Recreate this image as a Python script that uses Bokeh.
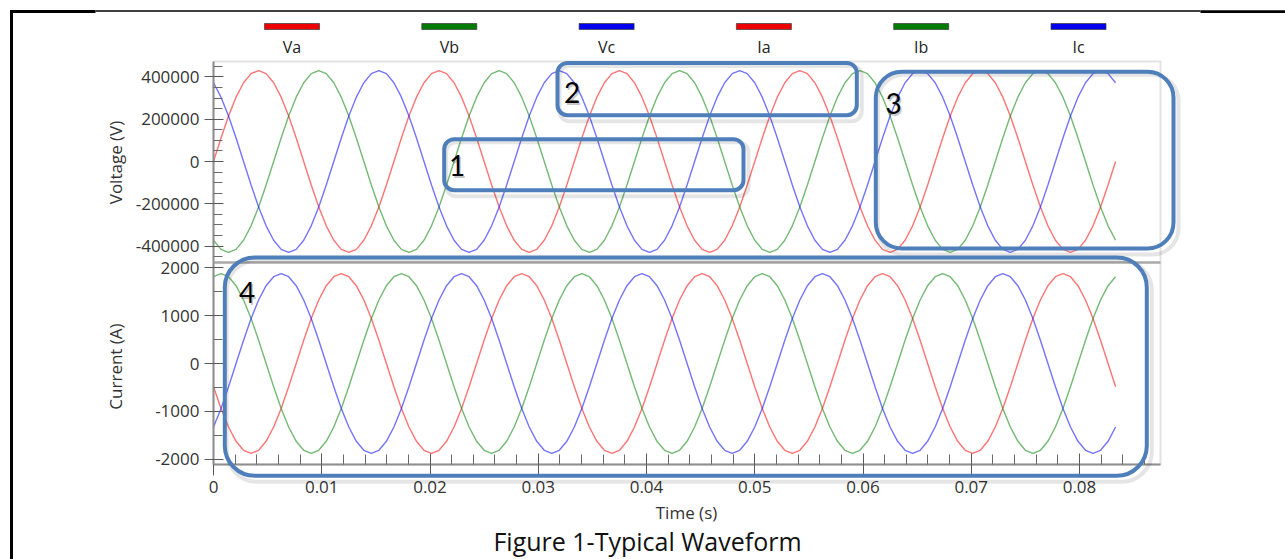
import math
from bokeh.plotting import figure
from bokeh.models import (Range1d, LinearAxis, FixedTicker, NumeralTickFormatter,
                          BoxAnnotation, Label)
from bokeh.embed import file_html
from bokeh.resources import INLINE

# ---------------- data (one sample every 1/1440 s) ----------------
SAMPLE_STEP = 1 / 1440  # s

Va = [
    0, 111300, 215000, 304100, 372400, 415300, 430000, 415300, 372400, 304100, 215000, 111300,
    0, -111300, -215000, -304100, -372400, -415300, -430000, -415300, -372400, -304100, -215000, -111300,
    0, 111300, 215000, 304100, 372400, 415300, 430000, 415300, 372400, 304100, 215000, 111300,
    0, -111300, -215000, -304100, -372400, -415300, -430000, -415300, -372400, -304100, -215000, -111300,
    0, 111300, 215000, 304100, 372400, 415300, 430000, 415300, 372400, 304100, 215000, 111300,
    0, -111300, -215000, -304100, -372400, -415300, -430000, -415300, -372400, -304100, -215000, -111300,
    0, 111300, 215000, 304100, 372400, 415300, 430000, 415300, 372400, 304100, 215000, 111300,
    0, -111300, -215000, -304100, -372400, -415300, -430000, -415300, -372400, -304100, -215000, -111300,
    0, 111300, 215000, 304100, 372400, 415300, 430000, 415300, 372400, 304100, 215000, 111300,
    0, -111300, -215000, -304100, -372400, -415300, -430000, -415300, -372400, -304100, -215000, -111300,
    0,
]
Vb = [
    -372400, -415300, -430000, -415300, -372400, -304100, -215000, -111300, 0, 111300, 215000, 304100,
    372400, 415300, 430000, 415300, 372400, 304100, 215000, 111300, 0, -111300, -215000, -304100,
    -372400, -415300, -430000, -415300, -372400, -304100, -215000, -111300, 0, 111300, 215000, 304100,
    372400, 415300, 430000, 415300, 372400, 304100, 215000, 111300, 0, -111300, -215000, -304100,
    -372400, -415300, -430000, -415300, -372400, -304100, -215000, -111300, 0, 111300, 215000, 304100,
    372400, 415300, 430000, 415300, 372400, 304100, 215000, 111300, 0, -111300, -215000, -304100,
    -372400, -415300, -430000, -415300, -372400, -304100, -215000, -111300, 0, 111300, 215000, 304100,
    372400, 415300, 430000, 415300, 372400, 304100, 215000, 111300, 0, -111300, -215000, -304100,
    -372400, -415300, -430000, -415300, -372400, -304100, -215000, -111300, 0, 111300, 215000, 304100,
    372400, 415300, 430000, 415300, 372400, 304100, 215000, 111300, 0, -111300, -215000, -304100,
    -372400,
]
Vc = [
    372400, 304100, 215000, 111300, 0, -111300, -215000, -304100, -372400, -415300, -430000, -415300,
    -372400, -304100, -215000, -111300, 0, 111300, 215000, 304100, 372400, 415300, 430000, 415300,
    372400, 304100, 215000, 111300, 0, -111300, -215000, -304100, -372400, -415300, -430000, -415300,
    -372400, -304100, -215000, -111300, 0, 111300, 215000, 304100, 372400, 415300, 430000, 415300,
    372400, 304100, 215000, 111300, 0, -111300, -215000, -304100, -372400, -415300, -430000, -415300,
    -372400, -304100, -215000, -111300, 0, 111300, 215000, 304100, 372400, 415300, 430000, 415300,
    372400, 304100, 215000, 111300, 0, -111300, -215000, -304100, -372400, -415300, -430000, -415300,
    -372400, -304100, -215000, -111300, 0, 111300, 215000, 304100, 372400, 415300, 430000, 415300,
    372400, 304100, 215000, 111300, 0, -111300, -215000, -304100, -372400, -415300, -430000, -415300,
    -372400, -304100, -215000, -111300, 0, 111300, 215000, 304100, 372400, 415300, 430000, 415300,
    372400,
]
Ia = [
    -487, -940, -1329, -1628, -1816, -1880, -1816, -1628, -1329, -940, -487, 0,
    487, 940, 1329, 1628, 1816, 1880, 1816, 1628, 1329, 940, 487, 0,
    -487, -940, -1329, -1628, -1816, -1880, -1816, -1628, -1329, -940, -487, 0,
    487, 940, 1329, 1628, 1816, 1880, 1816, 1628, 1329, 940, 487, 0,
    -487, -940, -1329, -1628, -1816, -1880, -1816, -1628, -1329, -940, -487, 0,
    487, 940, 1329, 1628, 1816, 1880, 1816, 1628, 1329, 940, 487, 0,
    -487, -940, -1329, -1628, -1816, -1880, -1816, -1628, -1329, -940, -487, 0,
    487, 940, 1329, 1628, 1816, 1880, 1816, 1628, 1329, 940, 487, 0,
    -487, -940, -1329, -1628, -1816, -1880, -1816, -1628, -1329, -940, -487, 0,
    487, 940, 1329, 1628, 1816, 1880, 1816, 1628, 1329, 940, 487, 0,
    -487,
]
Ib = [
    1816, 1880, 1816, 1628, 1329, 940, 487, 0, -487, -940, -1329, -1628,
    -1816, -1880, -1816, -1628, -1329, -940, -487, 0, 487, 940, 1329, 1628,
    1816, 1880, 1816, 1628, 1329, 940, 487, 0, -487, -940, -1329, -1628,
    -1816, -1880, -1816, -1628, -1329, -940, -487, 0, 487, 940, 1329, 1628,
    1816, 1880, 1816, 1628, 1329, 940, 487, 0, -487, -940, -1329, -1628,
    -1816, -1880, -1816, -1628, -1329, -940, -487, 0, 487, 940, 1329, 1628,
    1816, 1880, 1816, 1628, 1329, 940, 487, 0, -487, -940, -1329, -1628,
    -1816, -1880, -1816, -1628, -1329, -940, -487, 0, 487, 940, 1329, 1628,
    1816, 1880, 1816, 1628, 1329, 940, 487, 0, -487, -940, -1329, -1628,
    -1816, -1880, -1816, -1628, -1329, -940, -487, 0, 487, 940, 1329, 1628,
    1816,
]
Ic = [
    -1329, -940, -487, 0, 487, 940, 1329, 1628, 1816, 1880, 1816, 1628,
    1329, 940, 487, 0, -487, -940, -1329, -1628, -1816, -1880, -1816, -1628,
    -1329, -940, -487, 0, 487, 940, 1329, 1628, 1816, 1880, 1816, 1628,
    1329, 940, 487, 0, -487, -940, -1329, -1628, -1816, -1880, -1816, -1628,
    -1329, -940, -487, 0, 487, 940, 1329, 1628, 1816, 1880, 1816, 1628,
    1329, 940, 487, 0, -487, -940, -1329, -1628, -1816, -1880, -1816, -1628,
    -1329, -940, -487, 0, 487, 940, 1329, 1628, 1816, 1880, 1816, 1628,
    1329, 940, 487, 0, -487, -940, -1329, -1628, -1816, -1880, -1816, -1628,
    -1329, -940, -487, 0, 487, 940, 1329, 1628, 1816, 1880, 1816, 1628,
    1329, 940, 487, 0, -487, -940, -1329, -1628, -1816, -1880, -1816, -1628,
    -1329,
]
time_s = [k * SAMPLE_STEP for k in range(len(Va))]

LEGEND_LABELS = ["Va", "Vb", "Vc", "Ia", "Ib", "Ic"]
V_TICKS = [-400000, -200000, 0, 200000, 400000]
V_MINOR = [-450000, -350000, -300000, -250000, -150000, -100000, -50000,
           50000, 100000, 150000, 250000, 300000, 350000, 450000]
I_TICKS = [-2000, -1000, 0, 1000, 2000]
I_MINOR = [-1500, -500, 500, 1500]
T_TICKS = [0, 0.01, 0.02, 0.03, 0.04, 0.05, 0.06, 0.07, 0.08]
T_MINOR = [i * 0.002 for i in range(44) if i % 5]
BOX_NUMBERS = ["1", "2", "3", "4"]
CAPTION = "Figure 1-Typical Waveform"

# ---------------- styling / layout (page pixels) ----------------
RED, GREEN, BLUE = "#ff0000", "#008000", "#0000ff"
LEG_FILL = ["#ee0000", "#007a00", "#0000ee", "#ee0000", "#007a00", "#0000ee"]
BOX_BLUE = "#4f7fba"
FONT = "Open Sans"
TXT = "#333333"

W, H = 1285, 559
FX0, FX1, FY0, FY1 = 213, 1160, 61, 464   # plot area
SEP_Y = 262                               # border between voltage and current panels
V0_Y, VPX = 161, 42.3 / 200000            # voltage zero line, px per volt
I0_Y, IPX = 363, 0.0478                   # current zero line, px per amp
PX_PER_S = 10825


def tx(px):
    return (px - FX0) / PX_PER_S


def ty(py):
    return (V0_Y - py) / VPX


def cy(py):
    return (I0_Y - py) / IPX


p = figure(width=W, height=H, x_range=Range1d(tx(0), tx(W)), y_range=Range1d(ty(H), ty(0)),
           output_backend="svg", toolbar_location=None,
           x_axis_location=None, y_axis_location=None,
           min_border=0, min_border_left=0, min_border_right=0,
           min_border_top=0, min_border_bottom=0)
p.extra_y_ranges = {"cur": Range1d(cy(H), cy(0))}
p.grid.visible = False
p.background_fill_color = "white"
p.border_fill_color = "white"
p.outline_line_color = None

# panel frame and separator
p.add_layout(BoxAnnotation(left=tx(FX0), right=tx(FX1), top=ty(FY0), bottom=ty(FY1),
                           fill_alpha=0, line_color="#a3a3a3", line_width=2, level="underlay"))
p.add_layout(BoxAnnotation(left=tx(FX0), right=tx(FX1), top=ty(SEP_Y - 1.2), bottom=ty(SEP_Y + 1.2),
                           fill_color="#a8a8a8", fill_alpha=1, line_alpha=0, level="underlay"))

# axes (drawn at fixed positions)
vax = LinearAxis(fixed_location=0, bounds=(ty(SEP_Y), ty(FY0)),
                 ticker=FixedTicker(ticks=V_TICKS, minor_ticks=V_MINOR),
                 formatter=NumeralTickFormatter(format="0"))
iax = LinearAxis(y_range_name="cur", fixed_location=0, bounds=(cy(FY1), cy(SEP_Y)),
                 ticker=FixedTicker(ticks=I_TICKS, minor_ticks=I_MINOR),
                 formatter=NumeralTickFormatter(format="0"))
xax = LinearAxis(fixed_location=ty(FY1), bounds=(0, tx(FX1)),
                 ticker=FixedTicker(ticks=T_TICKS, minor_ticks=T_MINOR),
                 formatter=NumeralTickFormatter(format="0.[00]"))
for ax in (vax, iax):
    ax.major_tick_in = 10
    ax.major_tick_out = 9
    ax.minor_tick_in = 9
    ax.minor_tick_out = 0
    ax.major_label_standoff = 5
xax.major_tick_in = 11
xax.major_tick_out = 11
xax.minor_tick_in = 10
xax.minor_tick_out = 0
xax.major_label_standoff = 5
for ax in (vax, iax, xax):
    ax.axis_line_color = "#8f8f8f"
    ax.axis_line_width = 2
    ax.major_tick_line_color = "#5a5a5a"
    ax.minor_tick_line_color = "#6a6a6a"
    ax.major_label_text_font = FONT
    ax.major_label_text_font_size = "17px"
    ax.major_label_text_color = TXT
p.add_layout(vax, "left")
p.add_layout(iax, "left")
p.add_layout(xax, "below")

# waveforms
for ys, c in ((Va, RED), (Vb, GREEN), (Vc, BLUE)):
    p.line(time_s, ys, line_color=c, line_alpha=0.55, line_width=1.4)
for ys, c in ((Ia, RED), (Ib, GREEN), (Ic, BLUE)):
    p.line(time_s, ys, line_color=c, line_alpha=0.55, line_width=1.4, y_range_name="cur")

# axis titles
for txt, xx, yy, ang in (("Voltage (V)", 115, 162, math.pi / 2),
                         ("Current (A)", 115, 366, math.pi / 2),
                         ("Time (s)", 686, 512, 0)):
    p.add_layout(Label(x=tx(xx), y=ty(yy), text=txt, angle=ang,
                       text_align="center", text_baseline="middle",
                       text_font=FONT, text_font_size="17px", text_color=TXT))

# legend on top
for i, (lab, fc) in enumerate(zip(LEGEND_LABELS, LEG_FILL)):
    x0 = 264 + 157.3 * i
    p.add_layout(BoxAnnotation(left=tx(x0), right=tx(x0 + 55), top=ty(23), bottom=ty(29),
                               fill_color=fc, fill_alpha=1, line_color="#3a3a3a",
                               line_alpha=0.7, line_width=1))
    p.add_layout(Label(x=tx(x0 + 27.5), y=ty(46), text=lab, text_align="center",
                       text_baseline="middle", text_font=FONT, text_font_size="16px",
                       text_color="#222222"))

# highlight boxes
BOXES = [(441.7, 136.7, 745.0, 191.7, 10, 456.7, 165.0),
         (555.0, 60.5, 858.3, 116.7, 10, 571.7, 91.7),
         (873.3, 69.3, 1175.0, 250.0, 26, 893.0, 103.0),
         (222.3, 255.0, 1148.3, 477.3, 30, 246.7, 292.3)]
for (x0, y0, x1, y1, r, nx, ny), num in zip(BOXES, BOX_NUMBERS):
    p.add_layout(BoxAnnotation(left=tx(x0 + 4), right=tx(x1 + 3), top=ty(y0 + 5), bottom=ty(y1 + 4),
                               fill_alpha=0, line_color="#000000", line_alpha=0.10,
                               line_width=4, border_radius=r))
    p.add_layout(BoxAnnotation(left=tx(x0 + 2), right=tx(x1 - 2), top=ty(y0 + 2), bottom=ty(y1 - 2),
                               fill_alpha=0, line_color=BOX_BLUE, line_alpha=1,
                               line_width=4, border_radius=r))
    p.add_layout(Label(x=tx(nx + 1.5), y=ty(ny + 2), text=num, text_align="center",
                       text_baseline="middle", text_font="Lato", text_font_size="28px",
                       text_color="#000000", text_alpha=0.22))
    p.add_layout(Label(x=tx(nx), y=ty(ny), text=num, text_align="center",
                       text_baseline="middle", text_font="Lato", text_font_size="28px",
                       text_color="#000000"))

# document frame lines
for (x0, y0, x1, y1) in ((9.5, 9.5, 12.5, 600), (9.5, 9.5, 95, 12.5),
                         (95, 9.8, 1200, 11.3), (1200, 9.8, 1300, 12.5)):
    p.add_layout(BoxAnnotation(left=tx(x0), right=tx(x1), top=ty(y0), bottom=ty(y1),
                               fill_color="#000000", fill_alpha=1, line_alpha=0))

# caption
p.add_layout(Label(x=tx(647), y=ty(557), text=CAPTION, text_align="center",
                   text_baseline="bottom", text_font=FONT, text_font_size="25px",
                   text_color="#111111"))

open("out.html", "w").write(file_html(p, INLINE, title="Typical Waveform"))
